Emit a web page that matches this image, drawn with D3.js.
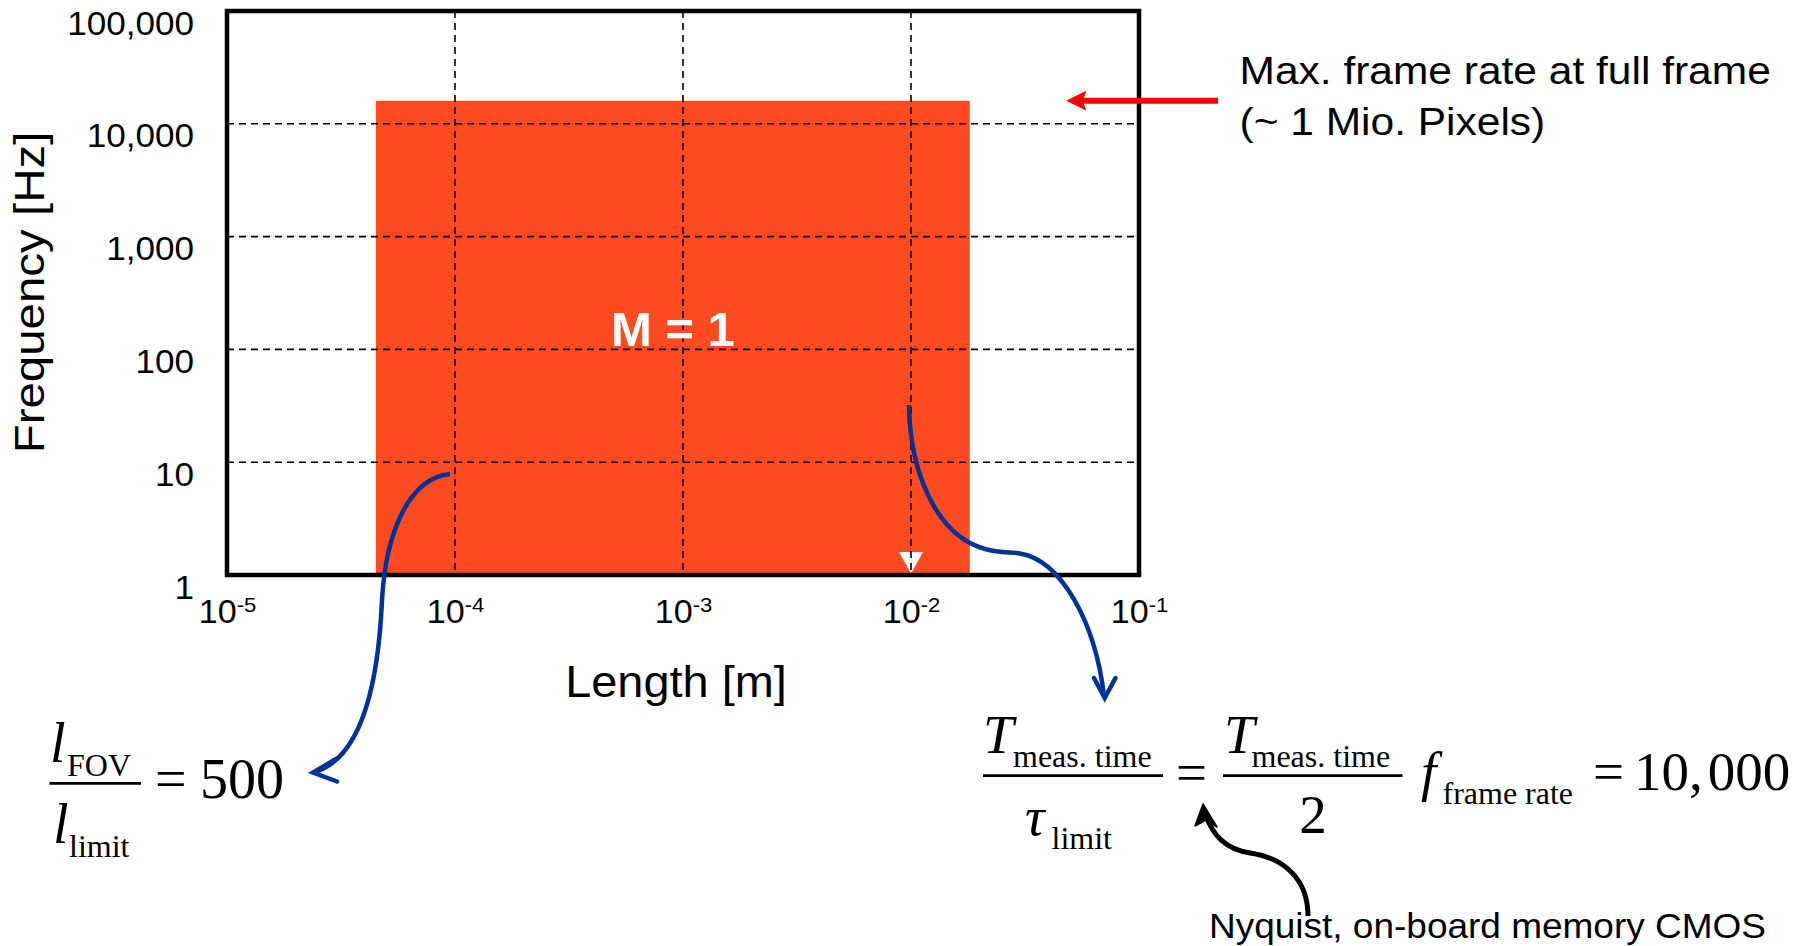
<!DOCTYPE html>
<html>
<head>
<meta charset="utf-8">
<script src="https://cdn.jsdelivr.net/npm/d3@7"></script>
<style>
  html, body { margin: 0; padding: 0; background: #fff; }
  svg { display: block; }
</style>
</head>
<body>
<svg id="chart" width="1810" height="946"></svg>
<script>
// ---- data ----
const xTickValues = [1e-5, 1e-4, 1e-3, 1e-2, 1e-1];
const xTickExponents = ["-5", "-4", "-3", "-2", "-1"];
const yTickValues = [1, 10, 100, 1000, 10000, 100000];
const yTickLabels = ["1", "10", "100", "1,000", "10,000", "100,000"];
const xGridValues = [1e-4, 1e-3, 1e-2];
const yGridValues = [10, 100, 1000, 10000];

// measurable region: length range [m] and frequency range [Hz]
const regionLength = [4.5e-5, 0.0181];
const regionFrequency = [1, 16000];
const regionLabel = "M = 1";
const maxFrameRate = 16000;      // full-frame limit, marked by the red arrow
const markedLength = 1e-2;       // length marked with the white arrowhead

const xAxisTitle = "Length [m]";
const yAxisTitle = "Frequency [Hz]";
const frameRateNote = ["Max. frame rate at full frame", "(~ 1 Mio. Pixels)"];
const nyquistNote = "Nyquist, on-board memory CMOS";

// ---- layout ----
const SANS = "'Liberation Sans', Arial, Helvetica, sans-serif";
const SERIF = "'Liberation Serif', 'Times New Roman', Times, serif";
const RED = "#ff4b1f";
const BLUE = "#003399";

const svg = d3.select("#chart");
svg.append("rect").attr("width", 1810).attr("height", 946).attr("fill", "#fff");

const x = d3.scaleLog().domain([1e-5, 1e-1]).range([227, 1139]);
const y = d3.scaleLog().domain([1, 1e5]).range([575, 11]);
const [x0, x1] = x.range();
const [yb, yt] = y.range();

// text with a slight horizontal stretch
function sText(parent, px, py, str, size, sx, opts = {}) {
  const t = parent.append("text")
    .attr("transform", `translate(${px},${py}) scale(${sx},1)`)
    .attr("font-family", opts.family || SANS)
    .attr("font-size", size)
    .attr("font-weight", opts.weight || "normal")
    .attr("fill", opts.fill || "#000")
    .attr("text-anchor", opts.anchor || "start")
    .text(str);
  return t;
}

// ---- measurable region ----
svg.append("rect")
  .attr("x", x(regionLength[0]))
  .attr("y", y(regionFrequency[1]))
  .attr("width", x(regionLength[1]) - x(regionLength[0]))
  .attr("height", y(regionFrequency[0]) - y(regionFrequency[1]))
  .attr("fill", RED);

// white arrowhead on the 1 cm line
const xm = x(markedLength);
svg.append("path")
  .attr("d", `M${xm - 12},${yb - 23} L${xm + 12},${yb - 23} L${xm},${yb - 1.5} Z`)
  .attr("fill", "#fff");

// ---- dashed grid ----
const grid = svg.append("g").attr("stroke", "#000").attr("stroke-width", 1.6)
  .attr("stroke-dasharray", "7,5");
grid.selectAll("line.v").data(xGridValues).join("line")
  .attr("class", "v")
  .attr("x1", d => x(d)).attr("x2", d => x(d))
  .attr("y1", yt).attr("y2", yb);
grid.selectAll("line.h").data(yGridValues).join("line")
  .attr("class", "h")
  .attr("x1", x0).attr("x2", x1)
  .attr("y1", d => y(d)).attr("y2", d => y(d));

// ---- region label ----
sText(svg, (x(regionLength[0]) + x(regionLength[1])) / 2,
  (y(regionFrequency[0]) + y(regionFrequency[1])) / 2 + 8,
  regionLabel, 49, 1.0, { weight: "bold", fill: "#fff", anchor: "middle" });

// ---- plot frame ----
svg.append("rect")
  .attr("x", x0).attr("y", yt)
  .attr("width", x1 - x0).attr("height", yb - yt)
  .attr("fill", "none").attr("stroke", "#000").attr("stroke-width", 4.5);

// ---- axes ----
const ySx = 1.08;
const yAxisG = svg.append("g")
  .attr("transform", `translate(${x0},0)`)
  .call(d3.axisLeft(y).tickValues(yTickValues)
    .tickFormat((d, i) => yTickLabels[i]).tickSize(0));
yAxisG.select(".domain").remove();
yAxisG.selectAll(".tick text")
  .attr("x", -33 / ySx).attr("dy", null).attr("y", 23)
  .attr("transform", `scale(${ySx},1)`)
  .attr("text-anchor", "end")
  .attr("font-family", SANS).attr("font-size", 32.5).attr("fill", "#000");

const xSx = 1.05;
const xAxisG = svg.append("g")
  .attr("transform", `translate(0,${yb})`)
  .call(d3.axisBottom(x).tickValues(xTickValues).tickFormat(() => "").tickSize(0));
xAxisG.select(".domain").remove();
xAxisG.selectAll(".tick text").each(function (d, i) {
  const t = d3.select(this)
    .attr("y", 48).attr("dy", null).attr("x", 0)
    .attr("transform", `scale(${xSx},1)`)
    .attr("text-anchor", "middle")
    .attr("font-family", SANS).attr("font-size", 32.5).attr("fill", "#000");
  t.append("tspan").text("10");
  t.append("tspan").attr("dy", -11).attr("font-size", 21).text(xTickExponents[i]);
});

// axis titles
sText(svg, 676, 697, xAxisTitle, 44, 1.066, { anchor: "middle" });
svg.append("text")
  .attr("transform", `translate(43.5,292.5) rotate(-90) scale(1.13,1)`)
  .attr("font-family", SANS).attr("font-size", 42)
  .attr("text-anchor", "middle").attr("fill", "#000")
  .text(yAxisTitle);

// ---- frame-rate note with red arrow ----
const yMax = y(maxFrameRate);
svg.append("line")
  .attr("x1", 1218).attr("x2", 1082)
  .attr("y1", yMax).attr("y2", yMax)
  .attr("stroke", "#ff0000").attr("stroke-width", 6);
svg.append("path")
  .attr("d", `M1068,${yMax} L1085,${yMax - 8.5} L1082,${yMax} L1085,${yMax + 8.5} Z`)
  .attr("fill", "#ff0000").attr("stroke", "#ff0000").attr("stroke-width", 1.5)
  .attr("stroke-linejoin", "miter");
sText(svg, 1239.5, 83.5, frameRateNote[0], 39.5, 1.076);
sText(svg, 1239.5, 135, frameRateNote[1], 39.5, 1.076);

// ---- blue pointer curves ----
const ann = svg.append("g").attr("fill", "none").attr("stroke", BLUE)
  .attr("stroke-width", 4.5);
// from the 0.1 mm limit down to the field-of-view ratio
ann.append("path")
  .attr("d", "M450,474 C410,478 386,530 382,600 C378,690 360,758 315,772");
ann.append("path")
  .attr("d", "M336,759 L313,772.5 L337,781.5")
  .attr("stroke-linecap", "round").attr("stroke-linejoin", "miter");
// from the 1 cm line down to the time ratio
ann.append("path")
  .attr("d", "M909,405 C910,470 935,535 985,549 C1000,553 1010,552 1020,553.5 C1060,560 1095,620 1104,696");
ann.append("path")
  .attr("d", "M1094,678 L1104.7,698 L1115.5,678")
  .attr("stroke-linecap", "round").attr("stroke-linejoin", "miter");

// ---- equations ----
const eq = svg.append("g").attr("font-family", SERIF).attr("fill", "#000");
function m(px, py, str, size, italic, anchor) {
  return eq.append("text")
    .attr("x", px).attr("y", py)
    .attr("font-size", size)
    .attr("font-style", italic ? "italic" : "normal")
    .attr("text-anchor", anchor || "start")
    .text(str);
}
function bar(xa, xb, yy) {
  eq.append("line").attr("x1", xa).attr("x2", xb).attr("y1", yy).attr("y2", yy)
    .attr("stroke", "#000").attr("stroke-width", 2.7);
}
// l_FOV / l_limit = 500
m(50, 761.5, "l", 56, true);
m(67, 776, "FOV", 32, false);
bar(49.5, 141, 783.3);
m(53, 843, "l", 56, true);
m(69, 856.5, "limit", 32, false);
m(155, 798, "=", 56, false);
m(200, 798, "500", 56, false);

// T_meas.time / tau_limit = T_meas.time / 2 * f_frame rate = 10,000
m(983, 753, "T", 55, true);
m(1013, 767, "meas. time", 32, false);
bar(983, 1163, 775.7);
m(1025, 835, "\u03C4", 55, true);
m(1051.5, 849, "limit", 32, false);
m(1176, 791, "=", 55, false);
m(1224, 753, "T", 55, true);
m(1251.5, 767, "meas. time", 32, false);
bar(1223, 1402.5, 775.7);
m(1313, 833, "2", 55, false, "middle");
m(1421, 790, "f", 55, true);
m(1442.5, 804, "frame rate", 32, false);
m(1593, 790, "=", 55, false);
const big = m(1634, 790, "10,", 55, false);
big.append("tspan").attr("dx", 5).text("000");

// ---- Nyquist note with black arrow ----
svg.append("path")
  .attr("d", "M1308,916 C1308,880 1285,858 1250,853 C1225,849 1213,835 1206,816")
  .attr("fill", "none").attr("stroke", "#000").attr("stroke-width", 5);
svg.append("path")
  .attr("d", "M1203,804 L1217,827 L1206,820 L1195,826 Z")
  .attr("fill", "#000").attr("stroke", "#000").attr("stroke-width", 1.5)
  .attr("stroke-linejoin", "round");
sText(svg, 1209, 938, nyquistNote, 35, 1.057);
</script>
</body>
</html>
